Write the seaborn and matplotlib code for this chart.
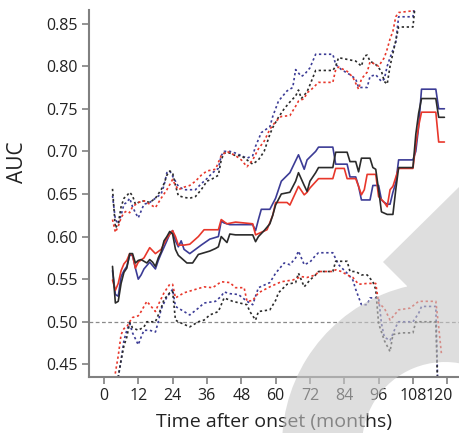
import numpy as np
import matplotlib
matplotlib.use("Agg")
import matplotlib.pyplot as plt
import matplotlib.patches as mpatches
import matplotlib.transforms as mtransforms
from matplotlib.path import Path
import seaborn as sns

# ---- data (months, AUC) ----
blue_mid_t = [3, 4, 5, 6, 7, 8, 9, 10, 11, 12, 13, 14, 15, 16, 17, 18, 19, 20, 22, 23, 24, 25, 26, 27, 28, 30, 32, 34, 37, 40, 41, 42, 44, 52, 53, 54, 55, 58, 60, 62, 65, 68, 70, 71, 74, 75, 80, 81, 85, 86, 88, 89, 90, 93, 94, 96, 97, 98, 99, 100, 101, 102, 103, 108, 109, 110, 111, 116, 117, 119]
blue_mid = [0.560, 0.532, 0.530, 0.553, 0.560, 0.565, 0.578, 0.578, 0.563, 0.550, 0.555, 0.562, 0.566, 0.570, 0.566, 0.562, 0.572, 0.580, 0.595, 0.603, 0.607, 0.595, 0.588, 0.595, 0.585, 0.580, 0.585, 0.590, 0.597, 0.600, 0.618, 0.616, 0.614, 0.614, 0.607, 0.620, 0.632, 0.632, 0.645, 0.665, 0.675, 0.696, 0.679, 0.690, 0.700, 0.705, 0.705, 0.685, 0.685, 0.670, 0.670, 0.659, 0.643, 0.643, 0.660, 0.660, 0.643, 0.640, 0.638, 0.638, 0.652, 0.663, 0.690, 0.690, 0.700, 0.729, 0.773, 0.773, 0.750, 0.750]

black_mid_t = [3, 4, 5, 6, 7, 8, 9, 10, 11, 12, 13, 15, 16, 17, 18, 19, 20, 21, 22, 23, 24, 25, 26, 27, 29, 31, 33, 35, 37, 39, 40, 41, 43, 44, 46, 52, 53, 54, 56, 58, 59, 60, 62, 65, 67, 68, 70, 71, 72, 74, 75, 80, 81, 85, 86, 88, 89, 90, 93, 94, 95, 96, 97, 99, 101, 102, 103, 108, 109, 110, 111, 116, 117, 119]
black_mid = [0.565, 0.522, 0.524, 0.545, 0.558, 0.563, 0.580, 0.580, 0.569, 0.572, 0.573, 0.569, 0.573, 0.570, 0.565, 0.575, 0.582, 0.595, 0.600, 0.606, 0.603, 0.585, 0.578, 0.575, 0.569, 0.569, 0.579, 0.581, 0.583, 0.586, 0.588, 0.600, 0.593, 0.603, 0.602, 0.602, 0.594, 0.600, 0.607, 0.615, 0.625, 0.637, 0.650, 0.652, 0.665, 0.675, 0.660, 0.653, 0.665, 0.675, 0.681, 0.681, 0.699, 0.699, 0.688, 0.688, 0.676, 0.692, 0.692, 0.681, 0.679, 0.655, 0.629, 0.626, 0.626, 0.655, 0.681, 0.681, 0.720, 0.745, 0.762, 0.762, 0.740, 0.740]

red_mid_t = [3, 4, 5, 6, 7, 8, 9, 10, 11, 12, 14, 16, 18, 20, 22, 24, 25, 26, 28, 30, 33, 35, 40, 41, 43, 46, 52, 53, 55, 57, 59, 60, 64, 65, 68, 70, 71, 72, 75, 80, 81, 84, 85, 88, 89, 90, 91, 92, 95, 96, 98, 99, 100, 101, 103, 108, 109, 110, 111, 116, 117, 119]
red_mid = [0.549, 0.537, 0.545, 0.560, 0.568, 0.572, 0.580, 0.578, 0.563, 0.570, 0.575, 0.587, 0.580, 0.585, 0.598, 0.607, 0.600, 0.590, 0.590, 0.591, 0.600, 0.608, 0.608, 0.620, 0.615, 0.617, 0.615, 0.602, 0.605, 0.608, 0.625, 0.640, 0.640, 0.637, 0.659, 0.649, 0.652, 0.657, 0.668, 0.668, 0.680, 0.680, 0.668, 0.668, 0.659, 0.649, 0.655, 0.673, 0.673, 0.647, 0.640, 0.635, 0.655, 0.659, 0.680, 0.680, 0.708, 0.730, 0.746, 0.746, 0.711, 0.711]

blue_hi_t = [3, 4, 5, 6, 7, 8, 9, 10, 11, 12, 13, 14, 16, 18, 20, 21, 22, 23, 25, 26, 28, 30, 32, 34, 36, 38, 40, 41, 42, 44, 46, 48, 50, 52, 53, 55, 58, 59, 61, 64, 66, 67, 69, 70, 72, 74, 80, 81, 83, 86, 88, 89, 92, 93, 95, 97, 98, 99, 100, 102, 103, 108, 109, 118]
blue_hi = [0.648, 0.620, 0.615, 0.625, 0.638, 0.640, 0.645, 0.635, 0.628, 0.622, 0.630, 0.638, 0.640, 0.645, 0.650, 0.660, 0.675, 0.677, 0.665, 0.659, 0.655, 0.655, 0.655, 0.662, 0.668, 0.675, 0.680, 0.695, 0.700, 0.700, 0.698, 0.695, 0.692, 0.695, 0.706, 0.722, 0.729, 0.741, 0.759, 0.771, 0.775, 0.796, 0.788, 0.790, 0.798, 0.814, 0.814, 0.802, 0.796, 0.790, 0.785, 0.775, 0.775, 0.788, 0.790, 0.782, 0.785, 0.800, 0.810, 0.828, 0.858, 0.858, 0.880, 0.880]

black_hi_t = [3, 4, 5, 6, 7, 8, 9, 10, 11, 12, 14, 16, 18, 20, 21, 22, 23, 24, 25, 26, 28, 30, 32, 34, 36, 38, 40, 41, 42, 44, 46, 48, 50, 52, 54, 56, 58, 59, 61, 63, 65, 67, 68, 69, 71, 72, 74, 80, 81, 82, 85, 88, 90, 91, 92, 93, 95, 97, 98, 99, 100, 101, 102, 103, 108, 109, 118]
black_hi = [0.656, 0.610, 0.615, 0.635, 0.645, 0.648, 0.652, 0.648, 0.638, 0.640, 0.642, 0.640, 0.645, 0.655, 0.662, 0.672, 0.677, 0.675, 0.660, 0.648, 0.646, 0.645, 0.647, 0.655, 0.665, 0.668, 0.672, 0.690, 0.698, 0.698, 0.695, 0.695, 0.690, 0.685, 0.690, 0.700, 0.720, 0.728, 0.740, 0.750, 0.758, 0.765, 0.772, 0.762, 0.770, 0.778, 0.795, 0.795, 0.800, 0.810, 0.808, 0.806, 0.800, 0.812, 0.813, 0.806, 0.802, 0.794, 0.782, 0.779, 0.800, 0.815, 0.830, 0.846, 0.846, 0.880, 0.880]

red_hi_t = [3, 4, 5, 6, 7, 8, 9, 10, 12, 14, 16, 18, 20, 22, 24, 25, 26, 28, 30, 32, 34, 36, 39, 41, 43, 46, 48, 50, 52, 54, 56, 58, 60, 62, 65, 67, 68, 70, 71, 72, 75, 80, 81, 82, 85, 87, 89, 90, 92, 93, 95, 96, 98, 99, 100, 101, 102, 103, 108, 109, 118]
red_hi = [0.620, 0.605, 0.612, 0.622, 0.628, 0.630, 0.628, 0.635, 0.640, 0.642, 0.638, 0.634, 0.645, 0.655, 0.667, 0.660, 0.655, 0.658, 0.660, 0.665, 0.672, 0.677, 0.679, 0.695, 0.700, 0.695, 0.690, 0.682, 0.690, 0.703, 0.712, 0.726, 0.735, 0.741, 0.742, 0.753, 0.759, 0.762, 0.769, 0.771, 0.781, 0.781, 0.796, 0.799, 0.794, 0.787, 0.773, 0.785, 0.793, 0.805, 0.802, 0.800, 0.810, 0.820, 0.832, 0.841, 0.858, 0.863, 0.865, 0.880, 0.880]

blue_lo_t = [3, 4, 5, 6, 7, 8, 9, 10, 11, 12, 13, 14, 16, 18, 19, 20, 22, 24, 25, 27, 30, 33, 35, 39, 41, 42, 44, 47, 50, 52, 54, 58, 60, 63, 65, 67, 68, 70, 72, 74, 75, 80, 82, 85, 87, 88, 90, 92, 93, 96, 97, 98, 100, 102, 103, 108, 110, 111, 116, 117, 118]
blue_lo = [0.400, 0.420, 0.435, 0.455, 0.478, 0.490, 0.498, 0.487, 0.480, 0.473, 0.482, 0.490, 0.490, 0.488, 0.500, 0.515, 0.529, 0.538, 0.518, 0.514, 0.508, 0.516, 0.522, 0.524, 0.530, 0.535, 0.533, 0.532, 0.524, 0.520, 0.540, 0.546, 0.557, 0.569, 0.567, 0.575, 0.583, 0.567, 0.570, 0.578, 0.581, 0.581, 0.567, 0.557, 0.549, 0.538, 0.520, 0.520, 0.528, 0.528, 0.498, 0.482, 0.478, 0.494, 0.500, 0.500, 0.510, 0.518, 0.518, 0.380, 0.380]

black_lo_t = [3, 4, 5, 6, 7, 8, 9, 10, 12, 14, 15, 18, 19, 20, 21, 23, 24, 25, 26, 28, 30, 33, 35, 37, 40, 41, 42, 45, 50, 51, 53, 54, 58, 60, 61, 64, 67, 68, 70, 72, 74, 75, 80, 81, 85, 86, 88, 90, 92, 94, 95, 96, 98, 100, 101, 104, 108, 109, 116, 117, 118]
black_lo = [0.400, 0.420, 0.435, 0.455, 0.472, 0.482, 0.499, 0.493, 0.490, 0.494, 0.500, 0.500, 0.508, 0.516, 0.526, 0.534, 0.536, 0.502, 0.500, 0.497, 0.494, 0.500, 0.502, 0.508, 0.512, 0.520, 0.528, 0.524, 0.520, 0.512, 0.502, 0.512, 0.514, 0.525, 0.534, 0.544, 0.546, 0.557, 0.541, 0.549, 0.555, 0.559, 0.559, 0.571, 0.571, 0.559, 0.559, 0.555, 0.555, 0.547, 0.538, 0.498, 0.478, 0.465, 0.485, 0.487, 0.487, 0.500, 0.500, 0.380, 0.380]

red_lo_t = [3, 4, 5, 6, 7, 8, 9, 10, 12, 13, 15, 16, 18, 19, 21, 23, 24, 25, 26, 28, 32, 35, 38, 41, 44, 46, 49, 50, 52, 54, 58, 62, 66, 69, 71, 74, 75, 80, 81, 83, 85, 87, 89, 92, 95, 96, 98, 100, 102, 103, 107, 110, 116, 117, 118]
red_lo = [0.410, 0.440, 0.460, 0.485, 0.492, 0.494, 0.500, 0.505, 0.507, 0.512, 0.524, 0.520, 0.512, 0.520, 0.534, 0.544, 0.544, 0.528, 0.530, 0.534, 0.538, 0.541, 0.540, 0.547, 0.546, 0.540, 0.540, 0.524, 0.525, 0.534, 0.541, 0.547, 0.549, 0.553, 0.552, 0.555, 0.559, 0.559, 0.561, 0.559, 0.555, 0.552, 0.544, 0.545, 0.545, 0.522, 0.516, 0.502, 0.510, 0.514, 0.516, 0.524, 0.524, 0.494, 0.461]

x_ticks = [0, 12, 24, 36, 48, 60, 72, 84, 96, 108, 120]
y_ticks = [0.45, 0.50, 0.55, 0.60, 0.65, 0.70, 0.75, 0.80, 0.85]
chance_level = 0.5

BLUE = "#3c3c96"
BLACK = "#2b2b2b"
RED = "#e8372b"

sns.set_style("ticks")
plt.rcParams["font.family"] = ["Open Sans", "DejaVu Sans"]

fig = plt.figure(figsize=(4.59, 4.33), dpi=100)
ax = fig.add_axes([0.194, 0.129, 0.806, 0.848])

dotted = (0, (1.4, 1.6))
series = [
    (blue_hi_t, blue_hi, BLUE, dotted), (black_hi_t, black_hi, BLACK, dotted), (red_hi_t, red_hi, RED, dotted),
    (blue_lo_t, blue_lo, BLUE, dotted), (black_lo_t, black_lo, BLACK, dotted), (red_lo_t, red_lo, RED, dotted),
    (blue_mid_t, blue_mid, BLUE, "-"), (red_mid_t, red_mid, RED, "-"), (black_mid_t, black_mid, BLACK, "-"),
]
for t, v, c, ls in series:
    sns.lineplot(x=t, y=v, color=c, linestyle=ls, linewidth=1.2,
                 estimator=None, sort=False, ax=ax)

ax.axhline(chance_level, color="#8a8a8a", linestyle=(0, (3, 2)), linewidth=0.9, zorder=0.5)

ax.set_xlim(-5.2, 124.1)
ax.set_ylim(0.435, 0.866)
ax.set_xticks(x_ticks)
ax.set_yticks(y_ticks)
ax.set_yticklabels([f"{y:.2f}" for y in y_ticks])
ax.tick_params(axis="both", labelsize=11.5, colors="#808080", labelcolor="#222222",
               length=5, width=1.2, pad=3)
# last x label sits a little left of its tick, as in the source
last = ax.get_xticklabels()[-1]
last.set_transform(last.get_transform() + mtransforms.ScaledTranslation(-8 / 100, 0, fig.dpi_scale_trans))
for side in ("top", "right"):
    ax.spines[side].set_visible(False)
for side in ("left", "bottom"):
    ax.spines[side].set_color("#808080")
    ax.spines[side].set_linewidth(1.5)
ax.set_xlabel("Time after onset (months)", fontsize=14, color="#222222", labelpad=6)
ax.set_ylabel("AUC", fontsize=15, color="#222222")
ax.yaxis.set_label_coords(-0.165, 0.586)

# light grey watermark over the lower right corner (pixel coordinates, y down),
# ring and slash merged into one path so the overlap is not darker
px = mtransforms.Affine2D().scale(1, -1).translate(0, 433)
ring_path = mpatches.Wedge((445, 445), 163, 176, 320, width=80).get_path()
band_path = Path([(383, 262), (459, 187), (559, 287), (483, 362), (383, 262)],
                 [Path.MOVETO, Path.LINETO, Path.LINETO, Path.LINETO, Path.CLOSEPOLY])
mark = mpatches.PathPatch(Path.make_compound_path(ring_path, band_path), transform=px,
                          facecolor="#c8c8c8", edgecolor="none", alpha=0.6, zorder=10)
fig.add_artist(mark)

fig.savefig("out.png", dpi=100)
